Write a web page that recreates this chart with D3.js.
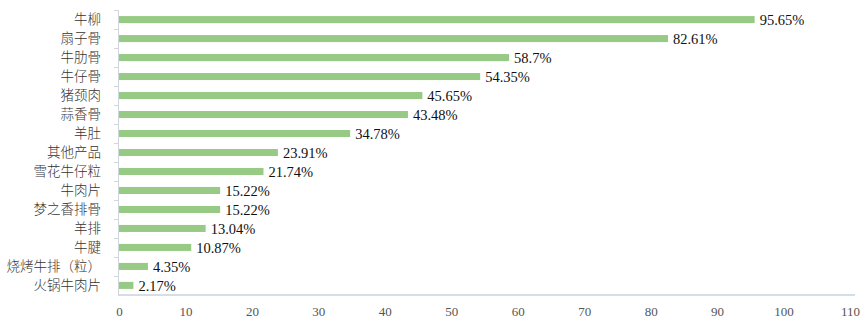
<!DOCTYPE html>
<html>
<head>
<meta charset="utf-8">
<script src="https://cdn.jsdelivr.net/npm/d3@7"></script>
<style>
  html, body { margin: 0; padding: 0; background: #fff; }
  svg { display: block; }
</style>
</head>
<body>
<svg id="chart" width="865" height="333"></svg>
<script>
// Share of respondents choosing each product (%)
const categories = ["牛柳", "扇子骨", "牛肋骨", "牛仔骨", "猪颈肉", "蒜香骨", "羊肚", "其他产品",
  "雪花牛仔粒", "牛肉片", "梦之香排骨", "羊排", "牛腱", "烧烤牛排（粒）", "火锅牛肉片"];
const values = [95.65, 82.61, 58.7, 54.35, 45.65, 43.48, 34.78, 23.91,
  21.74, 15.22, 15.22, 13.04, 10.87, 4.35, 2.17];
const valueLabels = ["95.65%", "82.61%", "58.7%", "54.35%", "45.65%", "43.48%", "34.78%", "23.91%",
  "21.74%", "15.22%", "15.22%", "13.04%", "10.87%", "4.35%", "2.17%"];
const xTicks = [0, 10, 20, 30, 40, 50, 60, 70, 80, 90, 100, 110];

const svg = d3.select("#chart");
const plotLeft = 119, plotRight = 850, plotTop = 10, plotBottom = 295;

const x = d3.scaleLinear().domain([0, 110]).range([plotLeft, plotRight]);
const y = d3.scaleBand().domain(categories).range([plotTop, plotBottom]).paddingInner(0.63).paddingOuter(0.32);

const serif = "'Liberation Serif', 'Times New Roman', 'Noto Sans CJK SC', serif";

// Bars
svg.append("g").selectAll("rect")
  .data(values)
  .join("rect")
  .attr("x", x(0))
  .attr("y", (d, i) => y(categories[i]))
  .attr("width", d => x(d) - x(0))
  .attr("height", y.bandwidth())
  .attr("fill", "#97ca84");

// Value labels
svg.append("g").selectAll("text")
  .data(values)
  .join("text")
  .attr("x", d => x(d) + 5)
  .attr("y", (d, i) => y(categories[i]) + y.bandwidth() / 2)
  .attr("dy", "0.36em")
  .attr("font-family", serif)
  .attr("font-size", 14.5)
  .attr("fill", "#111")
  .text((d, i) => valueLabels[i]);

// Category axis (left)
const band = (plotBottom - plotTop) / categories.length;
const yAxis = svg.append("g");
yAxis.append("line")
  .attr("x1", plotLeft - 0.5).attr("x2", plotLeft - 0.5)
  .attr("y1", plotTop).attr("y2", plotBottom)
  .attr("stroke", "#d0d6dc");
yAxis.selectAll("line.tick")
  .data(d3.range(categories.length))
  .join("line")
  .attr("class", "tick")
  .attr("x1", plotLeft - 5).attr("x2", plotLeft)
  .attr("y1", i => plotTop + i * band + 0.5)
  .attr("y2", i => plotTop + i * band + 0.5)
  .attr("stroke", "#d0d6dc");
yAxis.selectAll("text")
  .data(categories)
  .join("text")
  .attr("x", plotLeft - 18)
  .attr("y", d => y(d) + y.bandwidth() / 2)
  .attr("dy", "0.36em")
  .attr("text-anchor", "end")
  .attr("font-family", "'Noto Sans CJK SC', sans-serif")
  .attr("font-size", 13.5)
  .attr("font-weight", 300)
  .attr("fill", "#333")
  .text(d => d);

// Value axis (bottom)
const xAxis = svg.append("g").attr("transform", `translate(0,${plotBottom})`)
  .call(d3.axisBottom(x).tickValues(xTicks).tickSize(0).tickPadding(12).tickFormat(d3.format("d")));
xAxis.select(".domain").attr("stroke", "#c4d3df").attr("stroke-width", 1.5).attr("d", `M${plotLeft - 1},0H855`);
xAxis.selectAll("text")
  .attr("font-family", serif)
  .attr("font-size", 13)
  .attr("fill", "#555");
</script>
</body>
</html>
